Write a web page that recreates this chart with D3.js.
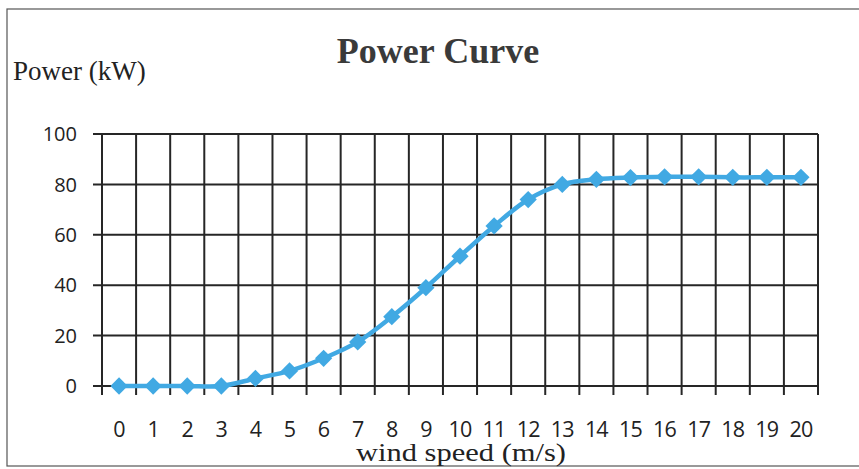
<!DOCTYPE html>
<html>
<head>
<meta charset="utf-8">
<script src="https://cdn.jsdelivr.net/npm/d3@7"></script>
<style>
  body { margin: 0; background: #fff; }
  svg { display: block; }
</style>
</head>
<body>
<div id="chart"></div>
<script>
// wind speed categories (m/s) and power output (kW)
var speeds = [0, 1, 2, 3, 4, 5, 6, 7, 8, 9, 10, 11, 12, 13, 14, 15, 16, 17, 18, 19, 20];
var power = [0, 0, 0, 0, 3, 6, 11, 17.5, 27.5, 39, 51.5, 63.5, 74, 80, 82, 82.7, 83, 83, 82.8, 82.8, 82.8];
var yTicks = [0, 20, 40, 60, 80, 100];

var W = 859, H = 469;
var margin = {top: 134, right: 41, bottom: 83, left: 102};
var width = W - margin.left - margin.right,
    height = H - margin.top - margin.bottom;

var svg = d3.select("#chart").append("svg")
    .attr("width", W)
    .attr("height", H);

// outer frame
svg.append("rect")
    .attr("x", 7).attr("y", 9)
    .attr("width", W + 10).attr("height", H - 12)
    .attr("fill", "none")
    .attr("stroke", "#555")
    .attr("stroke-width", 1.2);

var g = svg.append("g")
    .attr("transform", "translate(" + margin.left + "," + margin.top + ")");

var x = d3.scaleBand()
    .domain(speeds)
    .range([0, width]);

var y = d3.scaleLinear()
    .domain([0, 100])
    .range([height, 0]);

var gridColor = "#262626";

// horizontal gridlines (extend left as ticks)
g.selectAll(".hgrid")
    .data(yTicks)
    .enter().append("line")
    .attr("x1", -9).attr("x2", width)
    .attr("y1", function(d) { return y(d); })
    .attr("y2", function(d) { return y(d); })
    .attr("stroke", gridColor)
    .attr("stroke-width", 2);

// vertical gridlines at category boundaries (extend below as ticks)
var bounds = speeds.map(function(d) { return x(d); }).concat([width]);
g.selectAll(".vgrid")
    .data(bounds)
    .enter().append("line")
    .attr("x1", function(d) { return d; })
    .attr("x2", function(d) { return d; })
    .attr("y1", 0).attr("y2", height + 9)
    .attr("stroke", gridColor)
    .attr("stroke-width", 2);

// y tick labels
g.selectAll(".ylab")
    .data(yTicks)
    .enter().append("text")
    .attr("x", -25)
    .attr("y", function(d) { return y(d); })
    .attr("dy", "0.36em")
    .attr("text-anchor", "end")
    .attr("font-family", "'Open Sans', 'Liberation Sans', sans-serif")
    .attr("font-size", 20)
    .attr("fill", "#222")
    .text(function(d) { return d; });

// x tick labels
g.selectAll(".xlab")
    .data(speeds)
    .enter().append("text")
    .attr("x", function(d) { return x(d) + x.bandwidth() / 2; })
    .attr("y", height + 51)
    .attr("text-anchor", "middle")
    .attr("font-family", "'Open Sans', 'Liberation Sans', sans-serif")
    .attr("font-size", 21.5)
    .attr("letter-spacing", -0.8)
    .attr("fill", "#222")
    .text(function(d) { return d; });

// the curve
var line = d3.line()
    .x(function(d, i) { return x(speeds[i]) + x.bandwidth() / 2; })
    .y(function(d) { return y(d); })
    .curve(d3.curveCatmullRom.alpha(0.5));

g.append("path")
    .datum(power)
    .attr("fill", "none")
    .attr("stroke", "#41a9e3")
    .attr("stroke-width", 4.5)
    .attr("d", line);

// diamond markers
var diamond = d3.symbol().type(d3.symbolDiamond2).size(190);
g.selectAll(".pt")
    .data(power)
    .enter().append("path")
    .attr("transform", function(d, i) {
      return "translate(" + (x(speeds[i]) + x.bandwidth() / 2) + "," + y(d) + ")";
    })
    .attr("d", diamond)
    .attr("fill", "#41a9e3");

// title and axis names
svg.append("text")
    .attr("x", 438).attr("y", 63)
    .attr("text-anchor", "middle")
    .attr("font-family", "'Liberation Serif', 'Times New Roman', serif")
    .attr("font-weight", "bold")
    .attr("font-size", 36)
    .attr("fill", "#3a3a3a")
    .text("Power Curve");

svg.append("text")
    .attr("x", 13).attr("y", 80)
    .attr("font-family", "'Liberation Serif', 'Times New Roman', serif")
    .attr("font-size", 27)
    .attr("fill", "#222")
    .text("Power (kW)");

svg.append("text")
    .attr("x", 461).attr("y", 461)
    .attr("text-anchor", "middle")
    .attr("font-family", "'Liberation Serif', 'Times New Roman', serif")
    .attr("font-size", 26)
    .attr("textLength", 210)
    .attr("lengthAdjust", "spacingAndGlyphs")
    .attr("fill", "#222")
    .text("wind speed (m/s)");
</script>
</body>
</html>
